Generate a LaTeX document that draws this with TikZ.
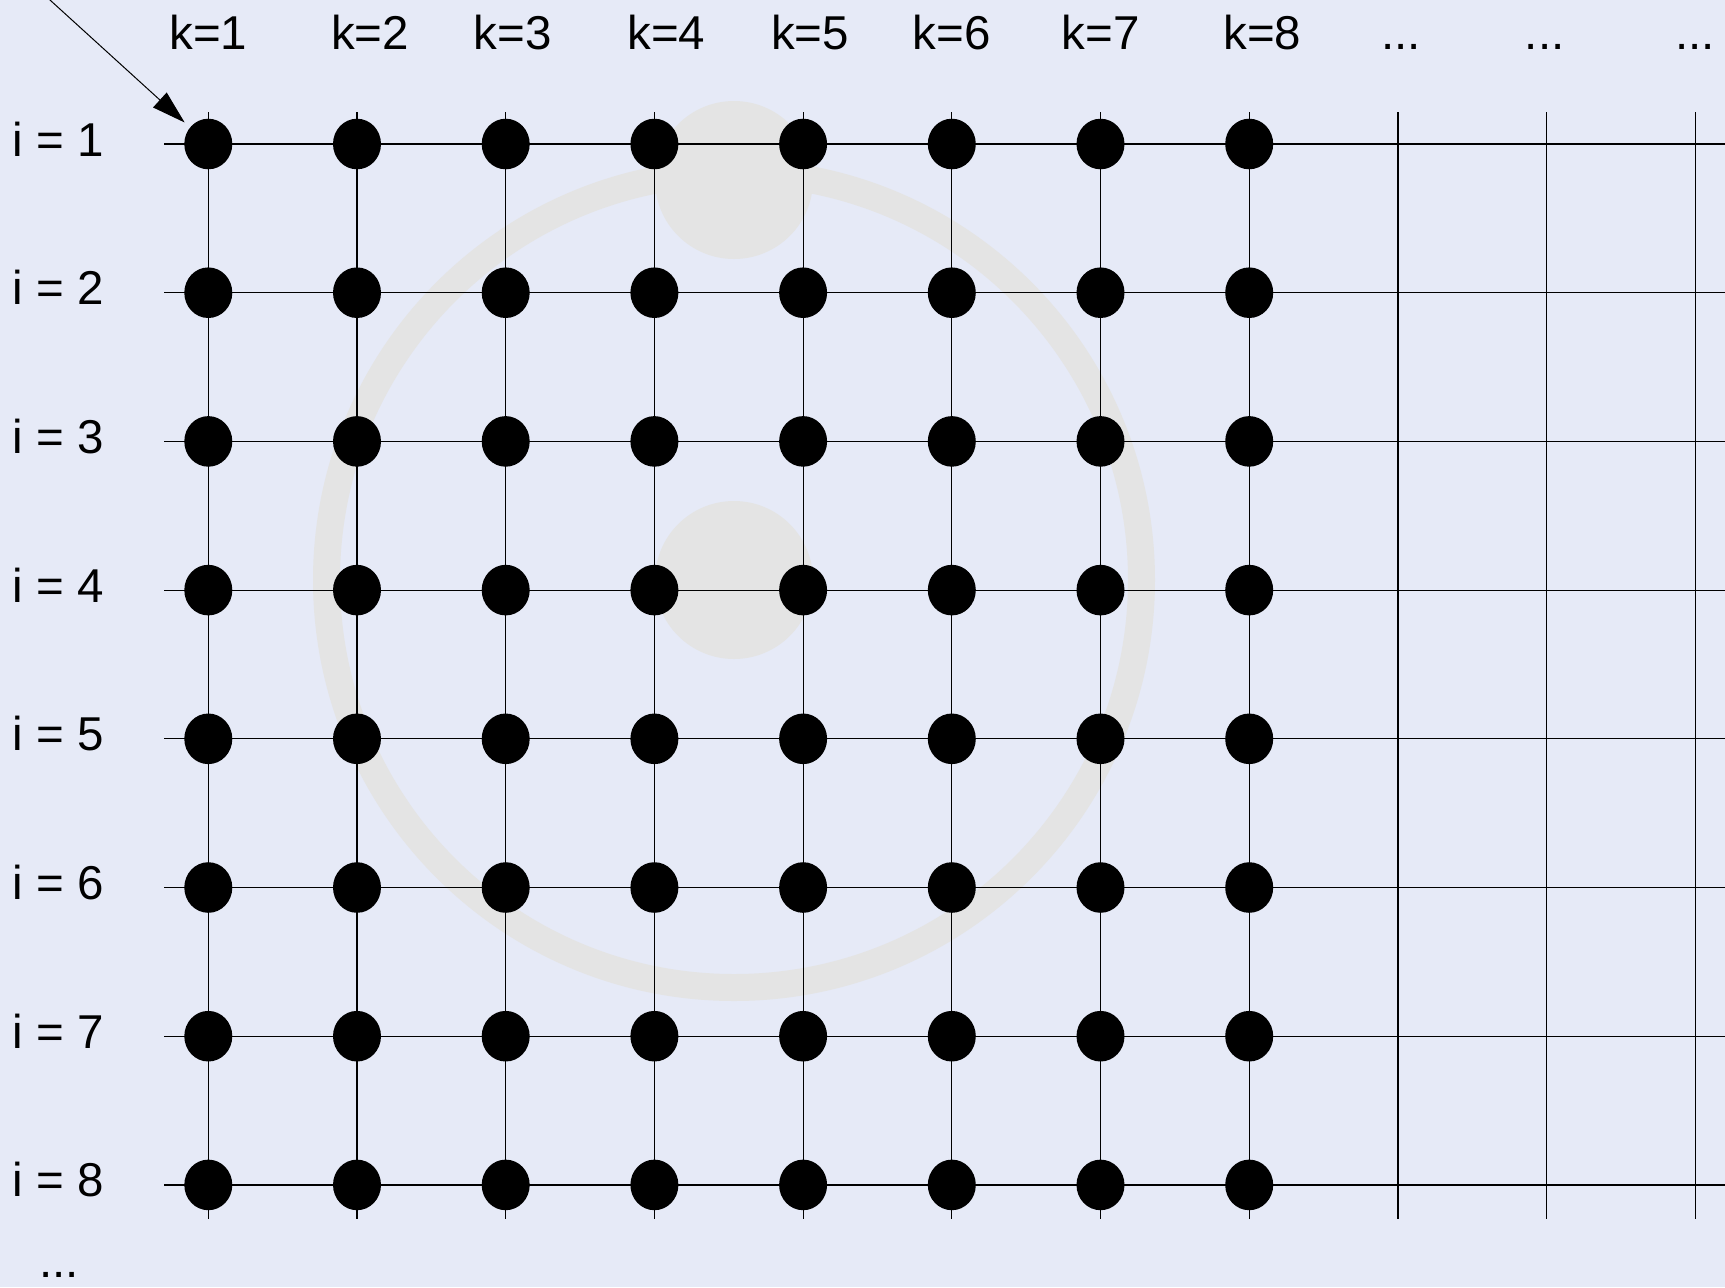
\documentclass[tikz,border=0pt]{standalone}
\usepackage{fontspec}
\setmainfont{Liberation Sans}
\usepackage{tikz}
\usetikzlibrary{positioning, arrows.meta, shapes.geometric}
\definecolor{gridbg}{HTML}{E6EAF7}
\definecolor{markgrey}{HTML}{E4E4E4}

\begin{document}
\begin{tikzpicture}[x=0.5pt, y=-0.5pt, font=\fontsize{23.75}{28}\selectfont,
  gridline/.style={black, line width=0.6pt},
  dot/.style={ellipse, fill=black, minimum width=24pt, minimum height=25.3pt, inner sep=0pt},
  collabel/.style={anchor=base, inner sep=0pt},
  rowlabel/.style={anchor=base west, inner sep=0pt}]
  \useasboundingbox (0,0) rectangle (1725,1287);
  \clip (0,0) rectangle (1725,1287);
  \fill[gridbg] (0,0) rectangle (1725,1287);

  % watermark behind the grid
  \draw[markgrey, line width=13.5pt] (734,580) circle[radius=407.5];
  \fill[markgrey] (734,180) circle[radius=79];
  \fill[markgrey] (734,580) circle[radius=79];

  % grid lines
  \foreach \i in {1,...,8}
    \draw[gridline] (164,{144+148.7*(\i-1)}) -- (1730,{144+148.7*(\i-1)});
  \foreach \k in {1,...,11}
    \draw[gridline] ({208.3+148.7*(\k-1)},112) -- ({208.3+148.7*(\k-1)},1219);

  % nodes
  \foreach \i in {1,...,8}
    \foreach \k in {1,...,8}
      \node[dot] (d-\i-\k) at ({208.3+148.7*(\k-1)},{144+148.7*(\i-1)}) {};

  % labels
  \foreach \k/\dx in {1/0, 2/13, 3/7, 4/12, 5/7, 6/0, 7/0, 8/13}
    \node[collabel] (k-\k) at ({208.3+148.7*(\k-1)+\dx},49) {k=\k};
  \foreach \k/\dx in {9/3, 10/-2, 11/0}
    \node[collabel] (k-\k) at ({208.3+148.7*(\k-1)+\dx},49) {...};
  \foreach \i in {1,...,8}
    \node[rowlabel] (i-\i) at (12,{156+148.7*(\i-1)}) {i = \i};
  \node[rowlabel] (i-more) at (39,1277) {...};

  \coordinate (src) at (28,-20);
  \draw[-{Triangle[length=16.75pt, width=10pt]}, line width=0.5pt, shorten >=3.5pt] (src) -- (d-1-1);
\end{tikzpicture}
\end{document}
